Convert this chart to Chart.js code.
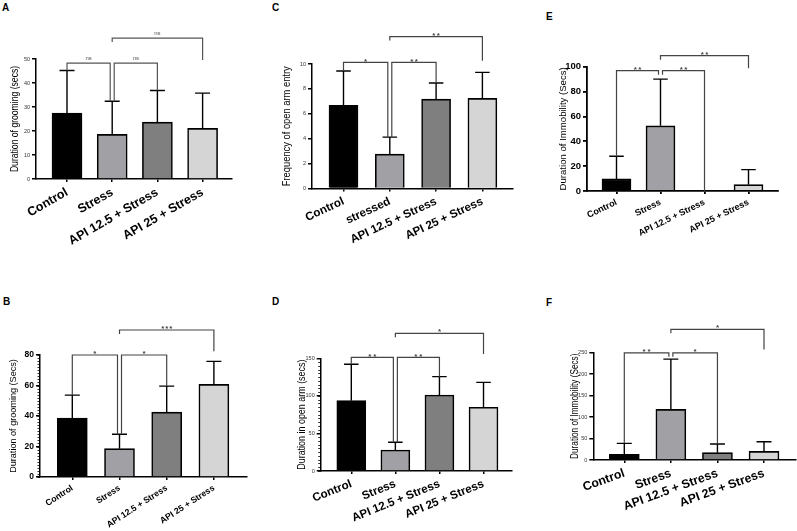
<!DOCTYPE html>
<html>
<head>
<meta charset="utf-8">
<script src="https://cdn.jsdelivr.net/npm/chart.js@4.4.0/dist/chart.umd.min.js"></script>
<style>
  body { margin: 0; background: #fff; width: 797px; height: 531px; overflow: hidden; position: relative;
         font-family: 'Liberation Sans', Arial, sans-serif; }
  canvas { position: absolute; left: 0; top: 0; }
  .tag { position: absolute; font-weight: bold; font-size: 10px; line-height: 10px; color: #000; }
</style>
</head>
<body>
<div class="tag" style="left:2px;top:3px">A</div>
<div class="tag" style="left:272px;top:3px">C</div>
<div class="tag" style="left:546px;top:12px">E</div>
<div class="tag" style="left:3px;top:297px">B</div>
<div class="tag" style="left:272px;top:297px">D</div>
<div class="tag" style="left:546px;top:298px">F</div>
<canvas id="cA"></canvas>
<canvas id="cC"></canvas>
<canvas id="cE"></canvas>
<canvas id="cB"></canvas>
<canvas id="cD"></canvas>
<canvas id="cF"></canvas>
<script>
// groups and colours
const groups = ["Control", "Stress", "API 12.5 + Stress", "API 25 + Stress"];
const groupsC = ["Control", "stressed", "API 12.5 + Stress", "API 25 + Stress"];
const barColors = ["#000000", "#a1a1a5", "#7f7f7f", "#d5d5d5"];

// A - grooming (secs)
const meanA = [27.5, 18.6, 23.7, 21.1];
const sdA = [17.7, 13.8, 13.2, 14.7];
const ticksA = [0, 10, 20, 30, 40, 50];
// [from, to, height, label, left leg end, right leg end] (null = short stub)
const sigA = [[0, 1, 48.3, "ns", 45.2, 32.4], [1, 2, 48.3, "ns", 32.4, 36.9], [1, 3, 58.7, "ns", null, 49.6]];

// C - open arm entries
const meanC = [6.68, 2.76, 7.18, 7.24];
const sdC = [2.76, 1.37, 1.29, 2.09];
const ticksC = [0, 2, 4, 6, 8, 10];
const sigC = [[0, 1, 10.13, "*", 9.44, 4.13], [1, 2, 10.13, "**", 4.13, 8.47], [1, 3, 12.2, "**", null, 10.27]];

// E - immobility
const meanE = [9.7, 52.4, 0, 5.1];
const sdE = [18.3, 37.6, 0, 12.1];
const ticksE = [0, 20, 40, 60, 80, 100];
const sigE = [[0, 1, 96.8, "**", 28, null], [1, 2, 96.8, "**", null, 0], [1, 3, 108.9, "**", null, 98.7]];

// B - grooming (Secs)
const meanB = [38.6, 18.6, 42.5, 60.7];
const sdB = [15.1, 9.4, 17.1, 15.1];
const ticksB = [0, 20, 40, 60, 80];
const sigB = [[0, 1, 80, "*", 53.7, 28], [1, 2, 80, "*", 28, 59.6], [1, 3, 96.4, "***", null, 82.4]];

// D - time in open arm
const meanD = [93.6, 28, 101.2, 84.8];
const sdD = [48.4, 10.2, 24.4, 33.2];
const ticksD = [0, 50, 100, 150];
const sigD = [[0, 1, 151.3, "**", 142, 38.2], [1, 2, 151.3, "**", 38.2, 125.6], [1, 3, 183.3, "*", null, 155.8]];

// F - immobility
const meanF = [13.2, 117.6, 17, 20.1];
const sdF = [25.5, 116.9, 20.2, 22.5];
const ticksF = [0, 50, 100, 150, 200, 250];
const sigF = [[0, 1, 249.2, "**", 38.7, null], [1, 2, 249.2, "*", null, 37.2], [1, 3, 304, "*", null, 257]];

const W = 797, H = 531;
const SANS = "'Liberation Sans', Arial, sans-serif";

// error bars, brackets, minor ticks and the (condensed) y title
const marks = {
  id: 'marks',
  afterDatasetsDraw(chart) {
    const o = chart.options.plugins.marks;
    const {ctx, scales: {x, y}} = chart;
    const means = chart.data.datasets[0].data;
    ctx.save();
    // error bars (upper only)
    ctx.strokeStyle = '#000';
    ctx.lineWidth = 1.4;
    o.sd.forEach((s, i) => {
      if (!s) return;
      const px = x.getPixelForValue(i);
      const y0 = y.getPixelForValue(means[i].y);
      const y1 = y.getPixelForValue(means[i].y + s);
      ctx.beginPath();
      ctx.moveTo(px, y0); ctx.lineTo(px, y1);
      ctx.moveTo(px - o.cap, y1); ctx.lineTo(px + o.cap, y1);
      ctx.stroke();
    });
    // minor ticks
    if (o.minor) {
      ctx.lineWidth = 0.8;
      ctx.beginPath();
      for (let v = 0; v <= y.max + 1e-9; v += o.minor) {
        const py = Math.round(y.getPixelForValue(v)) + 0.5;
        ctx.moveTo(x.left - 2.5, py); ctx.lineTo(x.left, py);
      }
      ctx.stroke();
    }
    // significance brackets
    ctx.strokeStyle = o.sigColor;
    ctx.fillStyle = o.sigColor;
    ctx.lineWidth = 1.2;
    ctx.font = o.sigFont;
    ctx.textAlign = 'center';
    ctx.textBaseline = 'bottom';
    o.sig.forEach(b => {
      const adj = b[1] - b[0] === 1;
      const sl = adj && b[0] === 1 ? 2 : 0;
      const sr = adj && b[1] === 1 ? -2 : 0;
      const xl = x.getPixelForValue(b[0]) + sl;
      const xr = x.getPixelForValue(b[1]) + sr;
      const yy = y.getPixelForValue(b[2]);
      const yl = b[4] === null ? yy + 4 : y.getPixelForValue(b[4]);
      const yr = b[5] === null ? yy + 4 : y.getPixelForValue(b[5]);
      ctx.beginPath();
      ctx.moveTo(xl, yl); ctx.lineTo(xl, yy); ctx.lineTo(xr, yy); ctx.lineTo(xr, yr);
      ctx.stroke();
      const cx = (xl + xr) / 2;
      const chars = b[3].split('');
      if (b[3][0] === '*') {
        const gap = o.starGap;
        chars.forEach((c, k) => ctx.fillText(c, cx + (k - (chars.length - 1) / 2) * gap, yy + o.starDy));
      } else {
        ctx.fillText(b[3], cx, yy - 1.5);
      }
    });
    // y axis title
    ctx.translate(o.tx, (y.top + y.bottom) / 2);
    ctx.rotate(-Math.PI / 2);
    ctx.scale(o.squeeze, 1);
    ctx.fillStyle = '#000';
    ctx.font = o.tfs + 'px ' + SANS;
    ctx.textAlign = 'center';
    ctx.textBaseline = 'middle';
    ctx.fillText(o.title, 0, 0);
    ctx.restore();
  }
};

function panel(id, cats, means, sd, yTicks, sig, g) {
  const yW = g.L - (g.tx - g.tfs * 0.6);
  const xH = Math.min(80, H - g.B);
  const el = document.getElementById(id);
  el.width = W; el.height = H;
  el.style.width = W + 'px'; el.style.height = H + 'px';
  new Chart(el, {
    type: 'bar',
    data: {
      datasets: [{
        data: means.map((v, i) => ({x: i, y: v})),
        backgroundColor: barColors,
        borderColor: '#000',
        borderWidth: g.bw,
        borderSkipped: 'bottom',
        barThickness: g.bt
      }]
    },
    options: {
      responsive: false,
      animation: false,
      events: [],
      layout: {padding: {left: g.L - yW, top: g.T, right: W - g.R, bottom: H - g.B - xH}},
      plugins: {
        legend: {display: false},
        tooltip: {enabled: false},
        marks: {sd: sd, sig: sig, cap: g.bt / 4, minor: g.minor, sigColor: g.sigColor,
                sigFont: g.sigFont, starGap: g.starGap, starDy: g.starDy,
                title: g.title, tx: g.tx, tfs: g.tfs, squeeze: g.squeeze}
      },
      scales: {
        x: {
          type: 'linear',
          bounds: 'data',
          offset: false,
          min: (g.L - g.c0) / g.sp,
          max: (g.R - g.c0) / g.sp,
          afterBuildTicks: s => { s.ticks = cats.map((c, i) => ({value: i})); },
          afterFit: s => { s.height = xH; s.paddingLeft = 0; s.paddingRight = 0; },
          ticks: {
            autoSkip: false, minRotation: g.rot, maxRotation: g.rot, padding: g.xpad,
            color: '#000', font: {family: SANS, size: g.xfs, weight: 'bold'},
            callback: v => cats[v]
          },
          grid: {display: true, drawOnChartArea: false, offset: false, tickLength: 3, color: '#000', lineWidth: g.aw},
          border: {display: true, color: '#000', width: g.aw}
        },
        y: {
          bounds: 'data',
          min: 0,
          max: yTicks[yTicks.length - 1],
          afterBuildTicks: s => { s.ticks = yTicks.map(v => ({value: v})); },
          afterFit: s => { s.width = yW; s.paddingTop = 0; s.paddingBottom = 0; },
          ticks: {padding: 2, color: g.tcol, font: {family: SANS, size: g.yfs, weight: g.yfw}},
          grid: {display: true, drawOnChartArea: false, tickLength: 4, color: '#000', lineWidth: g.aw},
          border: {display: true, color: '#000', width: g.aw},
          title: {display: false}
        }
      }
    },
    plugins: [marks]
  });
}

panel('cA', groups, meanA, sdA, ticksA, sigA, {
  L: 36, R: 232, T: 59, B: 179, c0: 67, sp: 45.2, bt: 30, bw: 1.6, aw: 1.5, rot: 30, xpad: 3,
  xfs: 12.5, yfs: 5.5, yfw: 'normal', tcol: '#333',
  title: 'Duration of grooming (secs)', tx: 15, tfs: 10.5, squeeze: 0.82,
  sigColor: '#555', sigFont: "6px " + SANS, starGap: 4, starDy: 3
});
panel('cC', groupsC, meanC, sdC, ticksC, sigC, {
  L: 312, R: 513, T: 64, B: 188.5, c0: 343.5, sp: 46.3, bt: 29, bw: 1.6, aw: 1.5, rot: 25, xpad: 3,
  xfs: 11.6, yfs: 5.5, yfw: 'normal', tcol: '#333',
  title: 'Frequency of open arm entry', tx: 287, tfs: 11.4, squeeze: 0.82,
  sigColor: '#444', sigFont: "bold 8px " + SANS, starGap: 4.5, starDy: 3
});
panel('cE', groups, meanE, sdE, ticksE, sigE, {
  L: 587, R: 778, T: 66.7, B: 191, c0: 616.5, sp: 44, bt: 29, bw: 1.6, aw: 1.8, rot: 26, xpad: 3,
  xfs: 9, yfs: 9.5, yfw: 'bold', tcol: '#000',
  title: 'Duration of Immobility (Secs)', tx: 563, tfs: 9.6, squeeze: 1,
  sigColor: '#444', sigFont: "bold 8px " + SANS, starGap: 4.5, starDy: 3
});
panel('cB', groups, meanB, sdB, ticksB, sigB, {
  L: 40, R: 247, T: 355, B: 477, c0: 72.3, sp: 47.2, bt: 30, bw: 1.6, aw: 1.5, rot: 33, minor: 2, xpad: 3,
  xfs: 8.7, yfs: 8.5, yfw: 'bold', tcol: '#000',
  title: 'Duration of grooming (Secs)', tx: 13, tfs: 9.1, squeeze: 1,
  sigColor: '#444', sigFont: "bold 8px " + SANS, starGap: 4, starDy: 3
});
panel('cD', groups, meanD, sdD, ticksD, sigD, {
  L: 320.7, R: 512, T: 358.3, B: 471, c0: 351.3, sp: 44.07, bt: 29, bw: 1.6, aw: 1.5, rot: 22, minor: 5, xpad: 3,
  xfs: 11.6, yfs: 5.5, yfw: 'normal', tcol: '#333',
  title: 'Duration in open arm (secs)', tx: 302, tfs: 10.9, squeeze: 0.82,
  sigColor: '#444', sigFont: "bold 8px " + SANS, starGap: 5, starDy: 3
});
panel('cF', groups, meanF, sdF, ticksF, sigF, {
  L: 593.3, R: 796, T: 352.5, B: 460, c0: 624.3, sp: 46.57, bt: 30, bw: 1.6, aw: 1.5, rot: 20, xpad: 3,
  xfs: 12.3, yfs: 5.5, yfw: 'normal', tcol: '#333',
  title: 'Duration of Immobility (Secs)', tx: 575, tfs: 10, squeeze: 0.82,
  sigColor: '#444', sigFont: "bold 8px " + SANS, starGap: 5, starDy: 3
});
</script>
</body>
</html>
